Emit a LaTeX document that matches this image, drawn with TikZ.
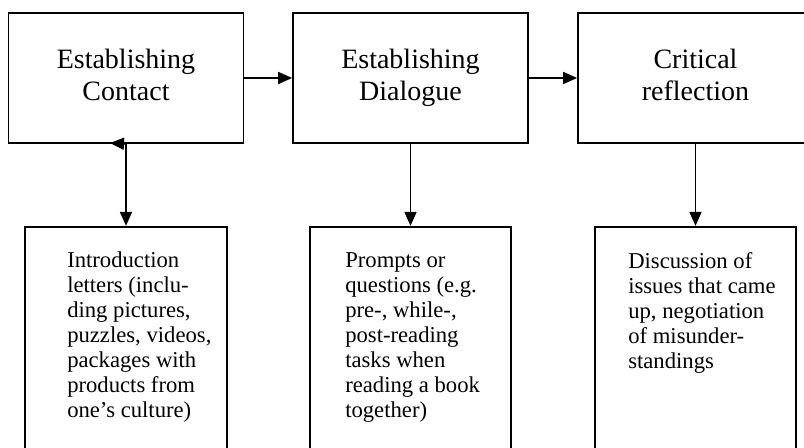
\documentclass[tikz,border=0pt]{standalone}
\usepackage{fontspec}
\setmainfont{Liberation Serif}
\usetikzlibrary{arrows.meta,positioning}
\tikzset{
  stage/.style={draw, line width=1.3pt, minimum width=176.25pt,
    minimum height=97.5pt, align=center,
    font=\fontsize{21}{24}\selectfont,
    execute at begin node={\rule{0pt}{24pt}},
    execute at end node={\rule[-5pt]{0pt}{5pt}}},
  task/.style={draw, line width=1.3pt, minimum width=151pt,
    minimum height=180pt},
  tasktext/.style={anchor=north west, align=left, inner sep=0pt,
    font=\fontsize{17}{18.75}\selectfont},
  arr/.style={line width=1.3pt, -{Triangle[length=10.5pt,width=9pt]}}
}
\begin{document}
\begin{tikzpicture}[x=0.75pt, y=-0.75pt]
    \useasboundingbox (0,0) rectangle (804,448);
    \clip (0,0) rectangle (804,448);
    \node [stage] (contact) at (126,78) {Establishing\\Contact};
    \node [stage] (dialogue) at (410.5,78) {Establishing\\Dialogue};
    \node [stage] (reflection) at (695.5,78) {Critical\\reflection};
    \node [task, below=61.5pt of contact] (letters) {};
    \node [task, below=61.5pt of dialogue] (prompts) {};
    \node [task, below=61.5pt of reflection] (discussion) {};
    \node [tasktext] (letterstext) at (67,252)
      {Introduction\\letters (inclu-\\ding pictures,\\puzzles, videos,\\packages with\\products from\\one's culture)};
    \node [tasktext] (promptstext) at (345,252)
      {Prompts or\\questions (e.g.\\pre-, while-,\\post-reading\\tasks when\\reading a book\\together)};
    \node [tasktext] (discussiontext) at (628,252)
      {Discussion of\\issues that came\\up, negotiation\\of misunder-\\standings};
    \coordinate (stub) at (110,143);
    \draw [arr] (contact) -- (dialogue);
    \draw [arr] (dialogue) -- (reflection);
    \draw [arr] (contact.south) -- (stub);
    \draw [arr] (contact) -- (letters);
    \draw [arr] (dialogue) -- (prompts);
    \draw [arr] (reflection) -- (discussion);
  \end{tikzpicture}
\end{document}
